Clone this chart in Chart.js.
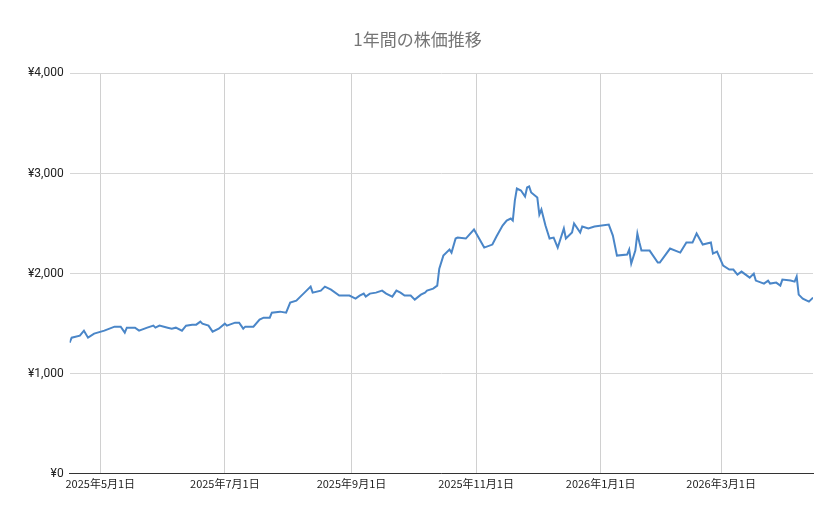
<!DOCTYPE html>
<html lang="ja">
  <head>
    <meta charset="UTF-8" />
    <title>1年間の株価推移</title>
    <script src="https://cdn.jsdelivr.net/npm/chart.js"></script>
    <style>
      body { margin: 0; background: #fff; }
      .chart-container { width: 839px; height: 519px; }
    </style>
  </head>
  <body>
    <div class="chart-container">
      <canvas id="stockChart"></canvas>
    </div>

    <script>
      // 2025-04-16 を 0 日目とした経過日数
      const startDate = new Date(2025, 3, 16);
      const days = [0,1,5,7,9,12,17,22,25,27,28,32,34,38,41,42,44,48,50,52,55,57,60,62,64,65,68,70,73,76,77,81,83,85,86,90,93,95,98,99,103,106,108,111,113,115,118,119,123,125,128,132,137,140,142,144,145,147,150,153,155,158,160,162,164,167,169,172,174,175,178,180,181,183,186,187,189,190,194,198,203,207,209,212,214,216,217,218,219,221,223,224,225,226,229,230,231,233,235,237,239,242,243,246,247,250,251,254,257,264,266,268,273,274,275,277,278,279,280,284,288,289,294,299,302,305,307,310,314,315,317,320,323,325,327,329,333,335,336,340,342,343,346,348,349,353,355,356,357,359,362,364];
      const prices = [1310,1360,1380,1430,1360,1400,1430,1470,1470,1410,1460,1460,1430,1460,1480,1460,1480,1460,1450,1460,1430,1480,1490,1490,1520,1500,1480,1420,1450,1500,1480,1510,1510,1450,1470,1470,1540,1560,1560,1610,1620,1610,1710,1730,1770,1810,1870,1810,1830,1870,1840,1780,1780,1750,1780,1800,1770,1800,1810,1830,1800,1770,1830,1810,1780,1780,1740,1790,1810,1830,1850,1880,2050,2180,2240,2210,2350,2360,2350,2440,2260,2290,2370,2480,2530,2550,2530,2730,2850,2830,2770,2860,2870,2810,2760,2590,2640,2480,2350,2360,2260,2450,2350,2410,2500,2410,2470,2450,2470,2490,2380,2180,2190,2240,2100,2230,2400,2310,2230,2230,2110,2110,2250,2210,2310,2310,2400,2290,2310,2200,2220,2080,2040,2040,1990,2020,1960,2000,1930,1900,1930,1900,1910,1880,1940,1930,1920,1970,1790,1750,1720,1760];
      const tickDays = [15, 76, 138, 199, 260, 319];
      const yTicks = [0, 1000, 2000, 3000, 4000];

      const points = days.map((d, i) => ({ x: d, y: prices[i] }));

      const fmtDate = (d) => {
        const dt = new Date(startDate.getTime() + d * 86400000);
        return dt.getFullYear() + "年" + (dt.getMonth() + 1) + "月" + dt.getDate() + "日";
      };

      const ctx = document.getElementById("stockChart").getContext("2d");
      new Chart(ctx, {
        type: "line",
        data: {
          datasets: [
            {
              data: points,
              borderColor: "#4a86c8",
              borderWidth: 2,
              pointRadius: 0,
              tension: 0,
              fill: false,
            },
          ],
        },
        options: {
          responsive: true,
          maintainAspectRatio: false,
          animation: false,
          layout: { padding: { left: 22, right: 26, top: 11, bottom: 26 } },
          plugins: {
            legend: { display: false },
            tooltip: { enabled: false },
            title: {
              display: true,
              text: "1年間の株価推移",
              color: "#757575",
              font: { family: "'Noto Sans CJK JP', Roboto, sans-serif", size: 17, weight: "normal" },
              padding: { top: 18, bottom: 24 },
            },
          },
          scales: {
            x: {
              type: "linear",
              min: 0,
              max: 364,
              afterBuildTicks: (axis) => {
                axis.ticks = tickDays.map((v) => ({ value: v }));
              },
              ticks: {
                callback: (v) => fmtDate(v),
                color: "#222",
                maxRotation: 0,
                font: { family: "'Noto Sans CJK JP', Roboto, sans-serif", size: 11 },
              },
              grid: { color: "#d0d0d0", drawTicks: false },
              border: { color: "#333" },
            },
            y: {
              min: 0,
              max: 4000,
              afterBuildTicks: (axis) => {
                axis.ticks = yTicks.map((v) => ({ value: v }));
              },
              ticks: {
                callback: (v) => "¥" + v.toLocaleString("en-US"),
                color: "#222",
                padding: 6,
                font: { family: "Roboto, sans-serif", size: 12 },
              },
              grid: { color: "#d6d6d6", drawTicks: false },
              border: { display: false },
            },
          },
        },
      });
    </script>
  </body>
</html>
